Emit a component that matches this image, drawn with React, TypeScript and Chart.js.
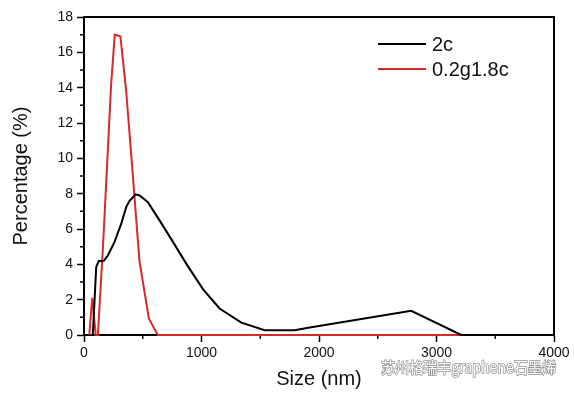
import React, { useEffect, useRef } from 'react';
import { Chart, registerables } from 'chart.js';
Chart.register(...registerables);

const seriesNames = ['2c', '0.2g1.8c'];
const size2c = [75, 104, 126, 169, 203, 260, 317, 359, 388, 439, 473, 544, 643, 757, 870, 1012, 1154, 1339, 1538, 1793, 1921, 2785, 3210, 4000];
const pct2c = [0, 3.85, 4.19, 4.2, 4.5, 5.27, 6.3, 7.24, 7.6, 7.96, 7.9, 7.52, 6.49, 5.27, 4.04, 2.6, 1.5, 0.7, 0.27, 0.27, 0.43, 1.37, 0, 0];
const sizeRed = [45, 70, 100, 118, 160, 231, 262, 310, 359, 402, 472, 552, 628, 4000];
const pctRed = [0, 2.1, 0, 0, 4.8, 14.2, 17.0, 16.9, 13.8, 10.2, 4.2, 0.94, 0, 0];
const xMinorTicks = [500, 1500, 2500, 3500];
const yMinorTicks = [1, 3, 5, 7, 9, 11, 13, 15, 17];
const xTitle = 'Size (nm)';
const yTitle = 'Percentage (%)';
const watermark = '苏州格瑞丰graphene石墨烯';
const colors = ['#000000', '#d42a2a'];

const FONT = '"Liberation Sans", Arial, sans-serif';

export default function App() {
  const ref = useRef<HTMLCanvasElement>(null);
  useEffect(() => {
    document.body.style.margin = '0';
    const canvas = ref.current!;
    const overlay = {
      id: 'overlay',
      beforeDatasetsDraw(chart: any) {
        const { ctx, chartArea: a } = chart;
        ctx.save();
        ctx.strokeStyle = '#000';
        ctx.lineWidth = 2;
        ctx.beginPath();
        ctx.moveTo(a.left, a.top);
        ctx.lineTo(a.right, a.top);
        ctx.lineTo(a.right, a.bottom);
        ctx.stroke();
        ctx.lineWidth = 1.5;
        const xs = chart.scales.x, ys = chart.scales.y;
        ctx.beginPath();
        for (const v of xMinorTicks) {
          const p = xs.getPixelForValue(v);
          ctx.moveTo(p, a.bottom);
          ctx.lineTo(p, a.bottom + 4);
        }
        for (const v of yMinorTicks) {
          const p = ys.getPixelForValue(v);
          ctx.moveTo(a.left, p);
          ctx.lineTo(a.left - 4, p);
        }
        ctx.stroke();
        ctx.restore();
      },
      afterDraw(chart: any) {
        const { ctx, chartArea: a } = chart;
        ctx.save();
        ctx.fillStyle = '#111';
        ctx.font = `20px ${FONT}`;
        ctx.textAlign = 'center';
        ctx.textBaseline = 'middle';
        ctx.fillText(xTitle, (a.left + a.right) / 2, 379);
        ctx.save();
        ctx.translate(21, (a.top + a.bottom) / 2);
        ctx.rotate(-Math.PI / 2);
        ctx.fillText(yTitle, 0, 0);
        ctx.restore();
        const ly = [44, 69];
        ctx.textAlign = 'left';
        ctx.font = `20px ${FONT}`;
        seriesNames.forEach((n, i) => {
          ctx.strokeStyle = colors[i];
          ctx.lineWidth = 2;
          ctx.beginPath();
          ctx.moveTo(378, ly[i]);
          ctx.lineTo(426, ly[i]);
          ctx.stroke();
          ctx.fillStyle = '#111';
          ctx.fillText(n, 432, ly[i] + 1);
        });
        ctx.font = `15px "Noto Sans CJK SC", ${FONT}`;
        ctx.textAlign = 'left';
        ctx.lineWidth = 1.5;
        ctx.strokeStyle = 'rgba(120,120,120,0.8)';
        ctx.strokeText(watermark, 381, 367, 175);
        ctx.fillStyle = '#ffffff';
        ctx.fillText(watermark, 381, 367, 175);
        ctx.restore();
      },
    };
    const axisCommon = {
      type: 'linear' as const,
      grid: { drawOnChartArea: false, drawTicks: true, tickLength: 7, tickColor: '#000', tickWidth: 1.5 },
      border: { display: true, color: '#000', width: 2 },
    };
    const chart = new Chart(canvas, {
      type: 'line',
      data: {
        datasets: [
          { label: seriesNames[0], data: size2c.map((x, i) => ({ x, y: pct2c[i] })), borderColor: colors[0], borderWidth: 2, pointRadius: 0, tension: 0, clip: false },
          { label: seriesNames[1], data: sizeRed.map((x, i) => ({ x, y: pctRed[i] })), borderColor: colors[1], borderWidth: 2, pointRadius: 0, tension: 0, clip: false },
        ],
      },
      options: {
        responsive: false,
        animation: false,
        layout: { padding: { top: 17, right: 20, left: 0, bottom: 0 } },
        plugins: { legend: { display: false }, tooltip: { enabled: false } },
        scales: {
          x: {
            ...axisCommon,
            min: 0, max: 4000,
            ticks: { stepSize: 1000, font: { family: FONT, size: 14 }, color: '#111', padding: 3, maxRotation: 0, callback: (v: any) => String(v) },
            afterFit: (s: any) => { s.height = 59; },
          },
          y: {
            ...axisCommon,
            min: 0, max: 18,
            ticks: { stepSize: 2, font: { family: FONT, size: 14 }, color: '#111', padding: 4, callback: (v: any) => String(v) },
            afterFit: (s: any) => { s.width = 84; },
          },
        },
      },
      plugins: [overlay],
    });
    return () => chart.destroy();
  }, []);
  return <canvas ref={ref} width={574} height={394} style={{ display: 'block' }} />;
}
